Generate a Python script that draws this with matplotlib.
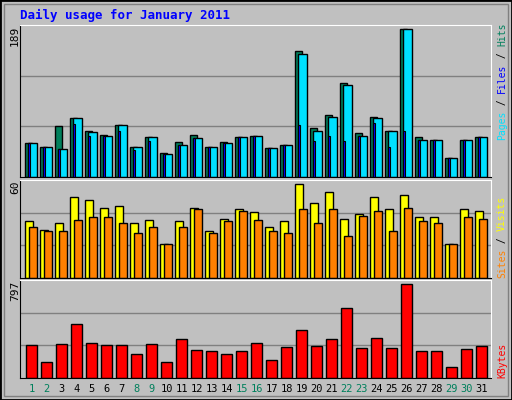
import numpy as np
import matplotlib.pyplot as plt
from matplotlib.patches import Rectangle

days = np.arange(1, 32)
hits = [43, 39, 65, 76, 59, 54, 66, 38, 51, 31, 45, 54, 39, 45, 51, 52, 37, 41,
        161, 63, 79, 121, 56, 77, 59, 189, 51, 48, 24, 48, 51]
pages = [43, 39, 36, 76, 58, 53, 66, 38, 51, 30, 41, 50, 39, 44, 51, 52, 37, 41,
         158, 59, 77, 118, 52, 75, 59, 189, 48, 48, 24, 48, 51]
files = [43, 39, 36, 68, 52, 53, 59, 35, 46, 30, 41, 50, 38, 44, 51, 52, 37, 41,
         66, 46, 53, 46, 52, 69, 38, 59, 48, 48, 24, 48, 51]
visits = [36.5, 31, 35, 52, 50, 45, 46, 35, 37, 22, 36.5, 45, 30, 38, 44, 42, 33,
          36.5, 60, 48, 55, 38, 41, 52, 44, 53, 39, 39, 22, 44, 43]
sites = [33, 30, 30, 37, 39, 39, 35, 29, 33, 22, 33, 44, 29, 36.5, 43, 37, 30, 29,
         44, 35, 44, 27, 40, 43, 30, 45, 36.5, 35, 21.5, 39, 38]
kbytes = [282, 134, 291, 457, 300, 282, 282, 204, 291, 134, 335, 239, 230, 204,
          230, 300, 151, 265, 404, 273, 335, 596, 256, 343, 256, 797, 230, 230,
          90, 247, 273]
weekends = [1, 2, 8, 9, 15, 16, 22, 23, 29, 30]

BG = '#c0c0c0'
GREEN = '#00805c'
W, H = 512, 400

fig = plt.figure(figsize=(W / 100, H / 100), dpi=100, facecolor=BG)

# frame
fig.patches.append(Rectangle((0, 0), 1, 1, transform=fig.transFigure, fill=False,
                             edgecolor='black', linewidth=2))
fig.patches.append(Rectangle((4 / W, 4 / H), 1 - 8 / W, 1 - 8 / H, transform=fig.transFigure,
                             fill=False, edgecolor='#808080', linewidth=1))

def panel(y0, y1):
    ax = fig.add_axes([20 / W, 1 - y1 / H, 471 / W, (y1 - y0) / H])
    ax.set_facecolor(BG)
    ax.set_xlim(0.5, 31.9)
    ax.set_xticks([])
    ax.set_yticks([])
    for s in ('top', 'right'):
        ax.spines[s].set_color('white')
    for s in ('left', 'bottom'):
        ax.spines[s].set_color('black')
    return ax

def grid(ax, top):
    for f in (1 / 3, 2 / 3):
        ax.axhline(top * f, color='#808080', linewidth=1, zorder=0)

ek = dict(edgecolor='black', linewidth=1, align='edge', zorder=2)

ax1 = panel(25, 177)
top1 = max(hits) * 1.03
ax1.set_ylim(0, top1)
grid(ax1, top1)
ax1.bar(days - 0.17, hits, 0.45, color=GREEN, **ek)
ax1.bar(days + 0.03, pages, 0.58, color='#00e0ff', **ek)
ax1.bar(days + 0.03, files, 0.14, color='#0000ff', edgecolor='black', linewidth=0.8,
        align='edge', zorder=3)

ax2 = panel(180, 278)
top2 = max(visits) * 1.047
ax2.set_ylim(0, top2)
grid(ax2, top2)
ax2.bar(days - 0.17, visits, 0.55, color='#ffff00', **ek)
ax2.bar(days + 0.1, sites, 0.51, color='#ff8000', **ek)

ax3 = panel(280, 378)
top3 = max(kbytes) * 1.044
ax3.set_ylim(0, top3)
grid(ax3, top3)
ax3.bar(days - 0.1, kbytes, 0.71, color='#ff0000', **ek)

mono = 'DejaVu Sans Mono'
fig.text(20 / W, 1 - 15 / H, 'Daily usage for January 2011', color='#0000ff',
         family=mono, weight='bold', fontsize=9, va='center')

for y, label in ((26, str(max(hits))), (181, str(int(max(visits)))), (281, str(max(kbytes)))):
    fig.text(15 / W, 1 - y / H, label, rotation=90, family=mono, fontsize=8,
             ha='center', va='top')

FS = 7
ADV = 0.602 * FS * 100 / 72  # char advance in px

def side(y, parts):
    # parts drawn bottom-to-top
    yy = 1 - y / H
    for txt, col in parts:
        fig.text(502 / W, yy, txt, rotation=90, color=col, family=mono,
                 fontsize=FS, ha='center', va='bottom')
        yy += len(txt) * ADV / H

side(140, [('Pages', '#00e0ff'), (' / ', 'black'), ('Files', '#0000ff'),
           (' / ', 'black'), ('Hits', GREEN)])
side(278, [('Sites', '#ff8000'), (' / ', 'black'), ('Visits', '#ffff00')])
side(378, [('KBytes', '#ff0000')])

for d in days:
    fig.text((20 + 15 * (d - 0.5) + 4) / W, 1 - 389 / H, str(d),
             color=GREEN if d in weekends else 'black', family=mono, fontsize=7.5,
             ha='center', va='center')

fig.savefig('out.png', dpi=100, facecolor=BG)
